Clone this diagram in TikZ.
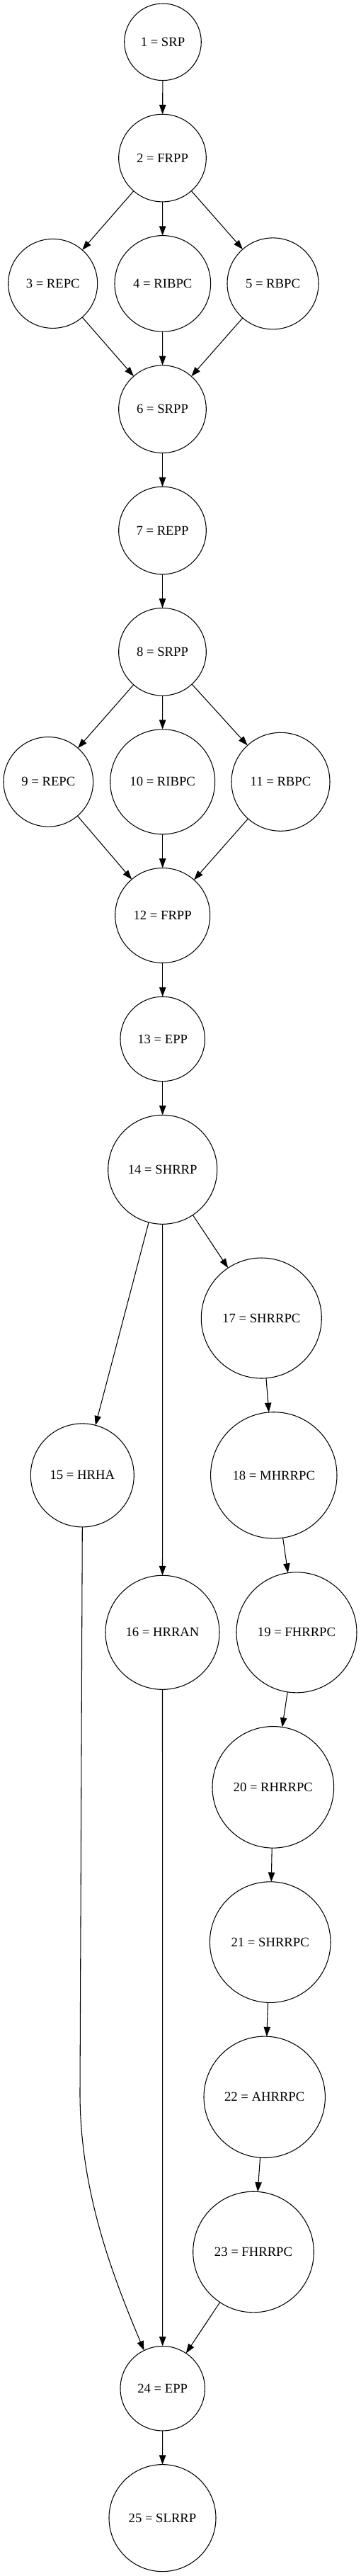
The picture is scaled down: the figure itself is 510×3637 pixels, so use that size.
\documentclass[tikz,border=0pt]{standalone}
\usepackage{fontspec}
\setmainfont{Liberation Serif}
\usetikzlibrary{arrows.meta}
\begin{document}
\begin{tikzpicture}[x=0.75pt,y=-0.75pt,
  nd/.style={circle,draw,line width=0.8pt,inner sep=0pt,outer sep=0pt,minimum size=#1*1.5pt,font=\fontsize{14}{16}\selectfont},
  arr/.style={line width=0.8pt,-{Triangle[length=10pt,width=7pt]}}]
\useasboundingbox (0,0) rectangle (510,3637);
\node[nd=54.3] (n1) at (230,59.3) {1 = SRP};
\node[nd=61.8] (n2) at (229.5,223.1) {2 = FRPP};
\node[nd=63] (n3) at (74.7,400.4) {3 = REPC};
\node[nd=67.8] (n4) at (229.8,400.4) {4 = RIBPC};
\node[nd=64.5] (n5) at (385.5,400.4) {5 = RBPC};
\node[nd=61.8] (n6) at (229.5,577.7) {6 = SRPP};
\node[nd=61.8] (n7) at (229.5,749.0) {7 = REPP};
\node[nd=61.8] (n8) at (229.5,920.3) {8 = SRPP};
\node[nd=63.3] (n9) at (68.3,1103.8) {9 = REPC};
\node[nd=74] (n10) at (229.7,1103.8) {10 = RIBPC};
\node[nd=69.5] (n11) at (396.5,1103.8) {11 = RBPC};
\node[nd=67] (n12) at (229.7,1292.5) {12 = FRPP};
\node[nd=59.7] (n13) at (229.7,1466.9) {13 = EPP};
\node[nd=77] (n14) at (229.7,1651.3) {14 = SHRRP};
\node[nd=85] (n17) at (369.3,1861.0) {17 = SHRRPC};
\node[nd=73] (n15) at (116.3,2082.9) {15 = HRHA};
\node[nd=89.2] (n18) at (386.8,2082.9) {18 = MHRRPC};
\node[nd=80.5] (n16) at (229.5,2304.8) {16 = HRRAN};
\node[nd=85] (n19) at (419,2304.8) {19 = FHRRPC};
\node[nd=85.8] (n20) at (385.8,2523.3) {20 = RHRRPC};
\node[nd=85.3] (n21) at (381.7,2742.1) {21 = SHRRPC};
\node[nd=85.7] (n22) at (373.7,2960.8) {22 = AHRRPC};
\node[nd=85.3] (n23) at (358,3179.5) {23 = FHRRPC};
\node[nd=59.7] (n24) at (229.7,3372.2) {24 = EPP};
\node[nd=75.5] (n25) at (229.5,3555.1) {25 = SLRRP};
\coordinate (c15a) at (113,2955);
\coordinate (c15b) at (113,3095);
\coordinate (c15c) at (160,3215);
\draw[arr] (n1) -- (n2);
\draw[arr] (n2) -- (n3);
\draw[arr] (n2) -- (n4);
\draw[arr] (n2) -- (n5);
\draw[arr] (n3) -- (n6);
\draw[arr] (n4) -- (n6);
\draw[arr] (n5) -- (n6);
\draw[arr] (n6) -- (n7);
\draw[arr] (n7) -- (n8);
\draw[arr] (n8) -- (n9);
\draw[arr] (n8) -- (n10);
\draw[arr] (n8) -- (n11);
\draw[arr] (n9) -- (n12);
\draw[arr] (n10) -- (n12);
\draw[arr] (n11) -- (n12);
\draw[arr] (n12) -- (n13);
\draw[arr] (n13) -- (n14);
\draw[arr] (n14) -- (n15);
\draw[arr] (n14) -- (n16);
\draw[arr] (n14) -- (n17);
\draw[arr] (n17) -- (n18);
\draw[arr] (n18) -- (n19);
\draw[arr] (n19) -- (n20);
\draw[arr] (n20) -- (n21);
\draw[arr] (n21) -- (n22);
\draw[arr] (n22) -- (n23);
\draw[arr] (n15.south) -- (c15a) .. controls (c15b) and (c15c) .. (n24.116.5);
\draw[arr] (n16) -- (n24);
\draw[arr] (n23) -- (n24);
\draw[arr] (n24) -- (n25);
\end{tikzpicture}
\end{document}
